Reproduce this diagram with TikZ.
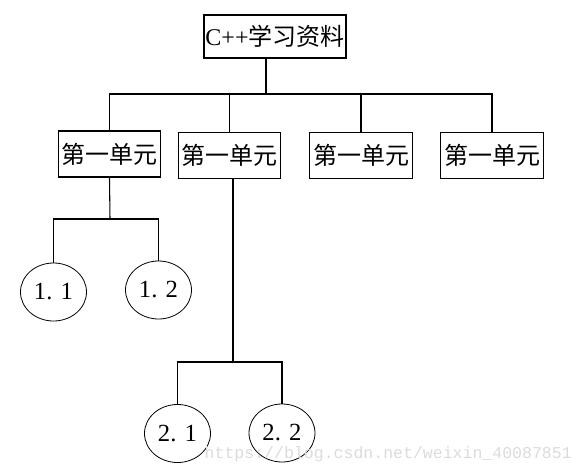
\documentclass[tikz,border=0pt]{standalone}
\usepackage{fontspec}
\setmainfont{Liberation Serif}
\newfontfamily\cjk{Noto Sans CJK SC}
\newfontfamily\markfont{Liberation Mono}
\usetikzlibrary{shapes.geometric}

\begin{document}
\begin{tikzpicture}[
  x=0.75pt, y=-0.75pt,
  box/.style={draw, line width=0.8pt, inner sep=1pt, minimum width=77pt, minimum height=34.5pt, font=\cjk\fontsize{18pt}{20pt}\selectfont},
  leaf/.style={draw, ellipse, line width=0.6pt, inner sep=0pt, minimum width=49.5pt, minimum height=43.5pt, font=\fontsize{18.5pt}{20pt}\selectfont},
  link/.style={draw, line width=0.8pt}
]
\useasboundingbox (0,0) rectangle (582,474);

% Nodes
\node[box, minimum width=106.5pt, minimum height=32.25pt] (root) at (275,36.5) {{\rmfamily C++}学习资料};
\node[box] (b1) at (109.5,154) {第一单元};
\node[box] (b2) at (229.5,155.5) {第一单元};
\node[box] (b3) at (361,155.5) {第一单元};
\node[box] (b4) at (492,155.5) {第一单元};
\node[leaf] (e11) at (53.5,292) {1. 1};
\node[leaf] (e12) at (158.5,290) {1. 2};
\node[leaf] (e21) at (177.5,433.5) {2. 1};
\node[leaf] (e22) at (282,433) {2. 2};
\node[anchor=base west, text=black!14, font=\markfont\fontsize{12.4pt}{14pt}\selectfont] (mark) at (200,458) {https://blog.csdn.net/weixin\_40087851};

% Junctions
\coordinate (j0) at (266,94);
\coordinate (j1) at (110,219);
\coordinate (j2) at (233,362);

% Lines
\draw[link] (j0 |- root.south) -- (j0);
\draw[link] (b1.north) |- (j0) -| (b4.north);
\foreach \b in {b2,b3}
  \draw[link] (\b.north) -- (\b.north |- j0);
\draw[link] (b1.south) -- (j1);
\draw[link] (e11.north) |- (j1) -| (e12.north);
\draw[link] (j2 |- b2.south) -- (j2);
\draw[link] (e21.north) |- (j2) -| (e22.north);

\end{tikzpicture}
\end{document}
